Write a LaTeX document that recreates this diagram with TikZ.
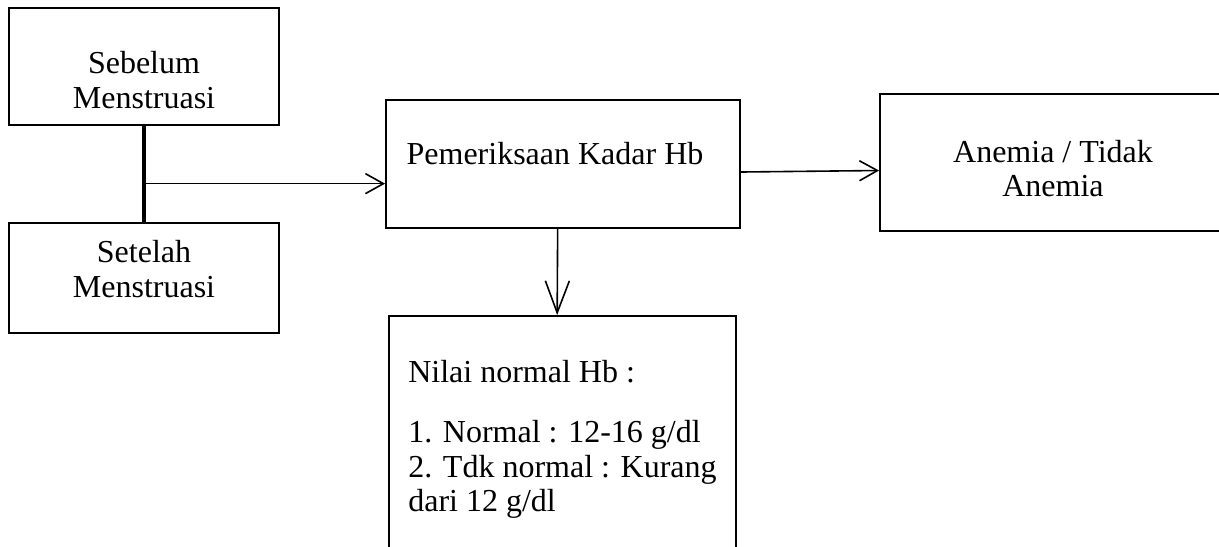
\documentclass[tikz,border=0pt]{standalone}
\usepackage{fontspec}
\setmainfont{Liberation Serif}
\usepackage{tikz}
\usetikzlibrary{arrows.meta, positioning, calc}

\begin{document}
\begin{tikzpicture}[x=0.375pt, y=-0.375pt,
            font=\fontsize{12}{13}\selectfont,
            blk/.style={draw, line width=0.7pt, align=center, inner sep=0pt},
            arr/.style={-{Straight Barb[length=6.75pt, width=7.5pt]}, line width=0.6pt},
            darr/.style={-{Straight Barb[length=12pt, width=9pt]}, line width=0.6pt}]
            \useasboundingbox (0,0) rectangle (1219,546);
            \clip (0,0) rectangle (1219,546);
            \node[blk, minimum width=101.25pt, minimum height=43.9pt] (sebelum)
              at (144,66.5) {\rule{0pt}{18.3pt}Sebelum\\Menstruasi};
            \node[blk, minimum width=101.25pt, minimum height=41.25pt] (setelah)
              at (144,278) {Setelah\\Menstruasi\rule[-6.8pt]{0pt}{6.8pt}};
            \node[blk, minimum width=132.75pt, minimum height=48pt] (periksa)
              at (563,164) {Pemeriksaan Kadar Hb\rule[-7.8pt]{0pt}{0.1pt}\kern6pt};
            \node[blk, minimum width=129.75pt, minimum height=51.4pt] (anemia)
              at (1053,162.5) {\rule{0pt}{12.8pt}Anemia / Tidak\\Anemia};
            \node[blk, align=left, minimum width=130.1pt, minimum height=92.25pt,
                  font=\fontsize{12}{12.8}\selectfont] (nilai)
              at (562.5,439) {Nilai normal Hb :\\[10pt]1. Normal : 12-16 g/dl\\2. Tdk normal : Kurang\\dari 12 g/dl};
            \coordinate (join) at ($(sebelum.south)!0.6!(setelah.north)$);
            \draw[line width=1.3pt] (sebelum) -- (setelah);
            \draw[arr] (join) -- (periksa.west |- join);
            \draw[arr] ([yshift=-3pt]periksa.east) -- ([yshift=-3pt]anemia.west);
            \draw[darr] ([xshift=-2pt]periksa.south) -- ([xshift=-2pt]nilai.north);
          \end{tikzpicture}
\end{document}
